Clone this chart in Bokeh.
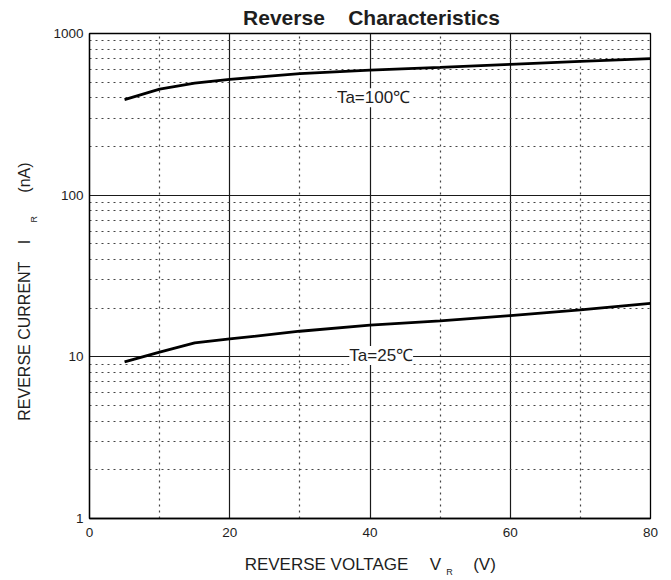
import math
from bokeh.plotting import figure
from bokeh.models import (FixedTicker, Range1d, Label, LinearAxis, LinearScale,
                          CustomJSTickFormatter)
from bokeh.embed import file_html
from bokeh.resources import INLINE

# ---- data ----
vr_100 = [5, 10, 15, 20, 30, 40, 50, 60, 70, 80]
ir_100 = [390, 453, 493, 520, 565, 593, 618, 645, 673, 700]
vr_25 = [5, 10, 15, 20, 30, 40, 50, 60, 70, 80]
ir_25 = [9.3, 10.7, 12.2, 12.9, 14.4, 15.7, 16.7, 18.0, 19.5, 21.4]

x_ticks = [0, 20, 40, 60, 80]
x_minor = [10, 30, 50, 70]
y_ticks = [1, 10, 100, 1000]
y_tick_labels = ["1", "10", "100", "1000"]
y_minor = [m * d for d in (1, 10, 100) for m in range(2, 10)]

title_text = "Reverse\u00a0\u00a0\u00a0\u00a0Characteristics"
xlabel_parts = ["REVERSE VOLTAGE", "V", "(V)"]
xlabel_sub = "R"
ylabel_parts = ["REVERSE CURRENT", "I", "(nA)"]
ylabel_sub = "R"

FONT = "Liberation Sans"
TXT = "#1e1e1e"

# frame placement (picture pixels)
FL, FT, FR, FB = 89, 33, 650, 522
W, H = 666, 579

p = figure(width=W, height=H, output_backend="svg", toolbar_location=None,
           y_axis_type="log", x_range=Range1d(0, 80), y_range=Range1d(1, 1000),
           min_border_left=FL, min_border_right=W - FR, min_border_top=FT,
           min_border_bottom=H - FB)
p.background_fill_color = "white"
p.border_fill_color = "white"
p.outline_line_color = "black"
p.outline_line_width = 1.3

p.xaxis.ticker = FixedTicker(ticks=x_ticks, minor_ticks=x_minor)
p.yaxis.ticker = FixedTicker(ticks=y_ticks, minor_ticks=y_minor)
p.yaxis.major_label_overrides = {t: s for t, s in zip(y_ticks, y_tick_labels)}

for ax in (p.xaxis, p.yaxis):
    ax.major_tick_out = 0
    ax.major_tick_in = 0
    ax.minor_tick_out = 0
    ax.minor_tick_in = 0
    ax.axis_line_color = "black"
    ax.axis_line_width = 1.3
    ax.major_label_text_font = FONT
    ax.major_label_text_font_size = "13.5px"
    ax.major_label_text_color = TXT
p.xaxis.major_label_standoff = 9
p.yaxis.major_label_standoff = 6

for g in (p.xgrid, p.ygrid):
    g.grid_line_color = "#1a1a1a"
    g.grid_line_width = 1.2
    g.grid_line_alpha = 1
    g.minor_grid_line_color = "#444444"
    g.minor_grid_line_dash = "2 4"
    g.minor_grid_line_width = 1.2

p.line(vr_100, ir_100, line_color="black", line_width=2.8)
p.line(vr_25, ir_25, line_color="black", line_width=2.8)

# curve labels with white background
for txt, x, y in (("Ta=100\u2103", 40.5, 400), ("Ta=25\u2103", 41.6, 10.2)):
    p.add_layout(Label(x=x, y=y, text=txt, text_align="center", text_baseline="middle",
                       text_font=FONT, text_font_size="17px", text_color=TXT,
                       background_fill_color="white", background_fill_alpha=1.0))

# ---- text outside the frame: label-only axes on linear pixel ranges ----
p.extra_x_ranges = {"px": Range1d(FL, FR)}
p.extra_y_ranges = {"py": Range1d(FB, FT)}
p.extra_x_scales = {"px": LinearScale()}
p.extra_y_scales = {"py": LinearScale()}


def text_axis(side, positions, texts, size, standoff, bold=False, orient="horizontal"):
    if side in ("above", "below"):
        ax = LinearAxis(x_range_name="px")
    else:
        ax = LinearAxis(y_range_name="py")
    mapping = ", ".join("%d: %r" % (pos, t) for pos, t in zip(positions, texts))
    ax.ticker = FixedTicker(ticks=positions, minor_ticks=[])
    ax.formatter = CustomJSTickFormatter(
        code="const m = {%s}; const k = Math.round(tick); return (k in m) ? m[k] : '';" % mapping)
    ax.axis_line_color = None
    ax.major_tick_line_color = None
    ax.minor_tick_line_color = None
    ax.major_tick_out = 0
    ax.major_tick_in = 0
    ax.minor_tick_out = 0
    ax.minor_tick_in = 0
    ax.major_label_text_font = FONT
    ax.major_label_text_font_size = size
    ax.major_label_text_font_style = "bold" if bold else "normal"
    ax.major_label_text_color = TXT
    try:
        ax.major_label_standoff = standoff
    except ValueError:
        ax.major_label_standoff = max(standoff, 0)
    ax.major_label_orientation = orient
    p.add_layout(ax, side)
    return ax


# title (above)
text_axis("above", [371], [title_text], "21px", 5, bold=True)

# x axis label (below): main words, then the subscript
text_axis("below", [326, 435, 484], xlabel_parts, "17px", 15)
text_axis("below", [449], [xlabel_sub], "9px", -10)

# y axis label (left, rotated; each label's top end sits at its tick)
a = math.pi / 2
text_axis("left", [217], [ylabel_sub], "9px", 16, orient=a)
text_axis("left", [263, 241, 163], ylabel_parts, "16px", -3, orient=a)

open("out.html", "w").write(file_html(p, INLINE))
